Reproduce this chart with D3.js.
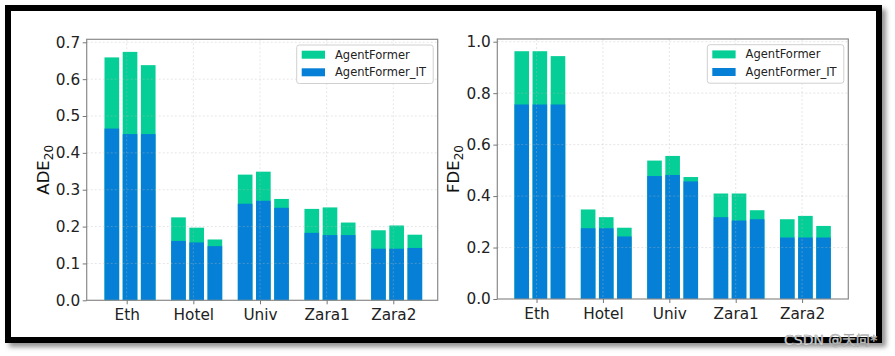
<!DOCTYPE html>
<html>
<head>
<meta charset="utf-8">
<script src="https://cdn.jsdelivr.net/npm/d3@7"></script>
<style>
  html, body { margin: 0; padding: 0; background: #fff; }
  svg { display: block; }
  text { font-family: "DejaVu Sans", sans-serif; }
</style>
</head>
<body>
<svg id="chart" width="895" height="356"></svg>
<script>
// ---- data ----
const categories = ["Eth", "Hotel", "Univ", "Zara1", "Zara2"];
const seriesNames = ["AgentFormer", "AgentFormer_IT"];

// three bars per category
const adeAgentFormer   = [[0.659, 0.674, 0.638], [0.225, 0.197, 0.165], [0.341, 0.349, 0.275], [0.248, 0.252, 0.211], [0.190, 0.203, 0.178]];
const adeAgentFormerIT = [[0.466, 0.451, 0.451], [0.161, 0.157, 0.147], [0.262, 0.270, 0.251], [0.183, 0.177, 0.177], [0.140, 0.140, 0.142]];
const fdeAgentFormer   = [[0.963, 0.963, 0.944], [0.348, 0.318, 0.277], [0.538, 0.556, 0.474], [0.410, 0.410, 0.345], [0.310, 0.323, 0.284]];
const fdeAgentFormerIT = [[0.756, 0.756, 0.756], [0.275, 0.275, 0.243], [0.478, 0.482, 0.457], [0.318, 0.305, 0.310], [0.239, 0.239, 0.239]];

const adeTicks = [0.0, 0.1, 0.2, 0.3, 0.4, 0.5, 0.6, 0.7];
const fdeTicks = [0.0, 0.2, 0.4, 0.6, 0.8, 1.0];

const colorAF = "#05cf96";
const colorIT = "#0680d6";

const svg = d3.select("#chart");

// frame with shadow
const defs = svg.append("defs");
const f = defs.append("filter").attr("id", "shadow").attr("x", "-5%").attr("y", "-5%").attr("width", "115%").attr("height", "120%");
f.append("feDropShadow").attr("dx", 4).attr("dy", 4).attr("stdDeviation", 2.5).attr("flood-color", "#777").attr("flood-opacity", 0.8);

svg.append("rect").attr("x", 8).attr("y", 8).attr("width", 871).attr("height", 332)
  .attr("fill", "#fff").attr("stroke", "#000").attr("stroke-width", 6).attr("filter", "url(#shadow)");

function drawChart(o) {
  const g = svg.append("g");
  const x = d3.scaleLinear().domain(o.xDomain).range([o.left, o.right]);
  const y = d3.scaleLinear().domain([0, o.yMax]).range([o.bottom, o.top]);
  const pitch = 0.273, bw = 0.22, shift = 0.05;

  // bars
  const bars = [];
  categories.forEach((c, i) => {
    for (let j = 0; j < 3; j++) {
      bars.push({ i, j, a: o.af[i][j], b: o.it[i][j] });
    }
  });
  const bx = d => x(d.i + shift + (d.j - 1) * pitch - bw / 2);
  const bwpx = x(bw) - x(0);
  g.selectAll(".af").data(bars).join("rect")
    .attr("x", bx).attr("width", bwpx)
    .attr("y", d => y(d.a)).attr("height", d => y(0) - y(d.a))
    .attr("fill", colorAF);
  g.selectAll(".it").data(bars).join("rect")
    .attr("x", bx).attr("width", bwpx)
    .attr("y", d => y(d.b)).attr("height", d => y(0) - y(d.b))
    .attr("fill", colorIT);

  // grid (drawn on top, faint)
  const grid = g.append("g").attr("stroke", "#b8b8b8").attr("stroke-opacity", 0.45)
    .attr("stroke-width", 0.8).attr("stroke-dasharray", "2,2");
  o.ticks.forEach(t => {
    if (t === 0) return;
    grid.append("line").attr("x1", o.left).attr("x2", o.right).attr("y1", y(t)).attr("y2", y(t));
  });
  categories.forEach((c, i) => {
    grid.append("line").attr("x1", x(i)).attr("x2", x(i)).attr("y1", o.top).attr("y2", o.bottom);
  });

  // spines
  g.append("rect").attr("x", o.left).attr("y", o.top).attr("width", o.right - o.left).attr("height", o.bottom - o.top)
    .attr("fill", "none").attr("stroke", "#8a8a8a").attr("stroke-width", 1.2);

  // y axis
  const yAxis = d3.axisLeft(y).tickValues(o.ticks).tickFormat(d3.format(".1f")).tickSize(4).tickPadding(2.5);
  const ya = g.append("g").attr("transform", `translate(${o.left},0)`).call(yAxis);
  ya.select(".domain").remove();
  ya.selectAll("line").attr("stroke", "#777");
  ya.selectAll("text").attr("font-size", 15.3).attr("fill", "#222").attr("font-family", "DejaVu Sans");

  // x axis
  const xAxis = d3.axisBottom(x).tickValues(d3.range(categories.length)).tickFormat(i => categories[i]).tickSize(4).tickPadding(5);
  const xa = g.append("g").attr("transform", `translate(0,${o.bottom})`).call(xAxis);
  xa.select(".domain").remove();
  xa.selectAll("line").attr("stroke", "#777");
  xa.selectAll("text").attr("font-size", 15.3).attr("fill", "#222").attr("font-family", "DejaVu Sans");

  // y label
  const lab = g.append("text")
    .attr("transform", `translate(${o.left - 38},${(o.top + o.bottom) / 2}) rotate(-90)`)
    .attr("text-anchor", "middle").attr("fill", "#111").attr("font-size", 16.5);
  lab.append("tspan").text(o.label);
  lab.append("tspan").attr("font-size", 12).attr("dy", 4).text("20");

  // legend
  const lg = g.append("g").attr("transform", `translate(${o.right - 141},${o.top + 5.7})`);
  lg.append("rect").attr("width", 136.5).attr("height", 38.5).attr("rx", 2.5)
    .attr("fill", "#fff").attr("fill-opacity", 0.85).attr("stroke", "#d0d0d0").attr("stroke-width", 1);
  [colorAF, colorIT].forEach((c, k) => {
    lg.append("rect").attr("x", 5).attr("y", 5.7 + k * 17.6).attr("width", 23.3).attr("height", 8).attr("fill", c);
    lg.append("text").attr("x", 38.3).attr("y", 9.7 + k * 17.6).attr("dy", "0.35em")
      .attr("font-size", 11.5).attr("fill", "#222").text(seriesNames[k]);
  });
}

drawChart({ left: 86.7, right: 437.7, top: 39.3, bottom: 300.3, xDomain: [-0.6, 4.666],
  yMax: 0.7 * 261 / 258, ticks: adeTicks, af: adeAgentFormer, it: adeAgentFormerIT, label: "ADE" });
drawChart({ left: 497.3, right: 848.3, top: 39, bottom: 299, xDomain: [-0.591, 4.696],
  yMax: 260 / 257.3, ticks: fdeTicks, af: fdeAgentFormer, it: fdeAgentFormerIT, label: "FDE" });

// watermark
svg.append("text").attr("x", 784).attr("y", 345)
  .attr("font-family", "'Noto Sans CJK SC', 'Noto Sans', sans-serif").attr("font-size", 14)
  .attr("fill", "#e6e6e6").attr("stroke", "#9a9a9a").attr("stroke-width", 0.5)
  .text("CSDN @天问*");
</script>
</body>
</html>
